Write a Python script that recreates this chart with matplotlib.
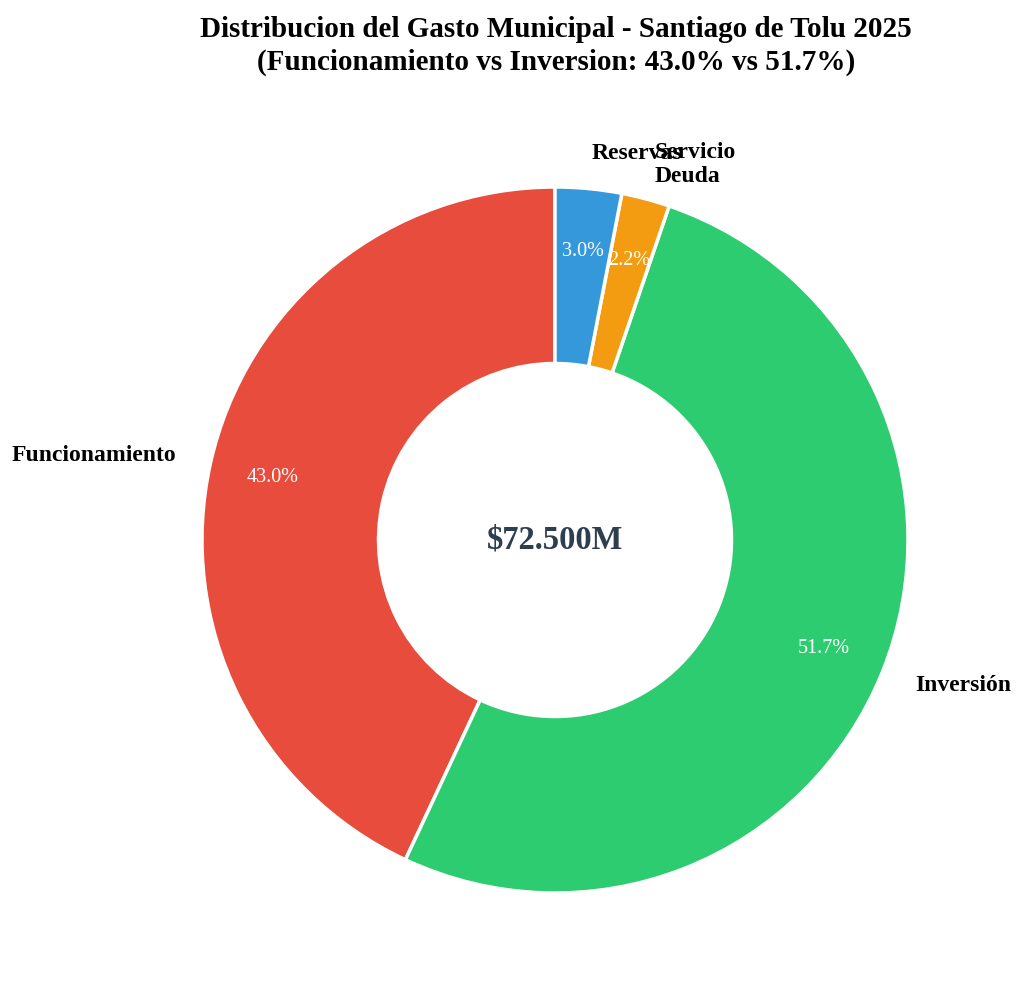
import matplotlib
matplotlib.use("Agg")
import matplotlib.pyplot as plt

categories = ["Funcionamiento", "Inversión", "Servicio\nDeuda", "Reservas"]
values = [31200, 37500, 1600, 2200]
colors = ["#e74c3c", "#2ecc71", "#f39c12", "#3498db"]
total_label = "$72.500M"

plt.rcParams['font.family'] = ['Liberation Serif', 'DejaVu Serif']

fig = plt.figure(figsize=(10.24, 9.97), dpi=100)
ax = fig.add_axes([0.0, 0.0, 1.0, 1.0])
wedges, texts, autotexts = ax.pie(
    values, labels=categories, colors=colors, startangle=90,
    autopct='%1.1f%%', pctdistance=0.82, labeldistance=1.1,
    wedgeprops=dict(width=0.5, edgecolor='white', linewidth=2.5),
    textprops=dict(fontsize=17, fontweight='bold'))
for t in autotexts:
    t.set_color('white')
    t.set_fontsize(14.5)
    t.set_fontweight('normal')
ax.text(0, 0, total_label, ha='center', va='center', fontsize=23.5,
        fontweight='bold', color='#2c3e50')
ax.set_aspect('equal')
W, H = 1024, 997
r = 353
cx, cy = 555, 540
ax.set_position([(cx - r) / W, (H - cy - r) / H, 2 * r / W, 2 * r / H])
ax.set_xlim(-1, 1)
ax.set_ylim(-1, 1)
fig.text(0.543, 0.984, "Distribucion del Gasto Municipal - Santiago de Tolu 2025\n(Funcionamiento vs Inversion: 43.0% vs 51.7%)",
         ha='center', va='top', fontsize=21, fontweight='bold', linespacing=1.25)
fig.savefig("out.png", dpi=100, facecolor='white')
